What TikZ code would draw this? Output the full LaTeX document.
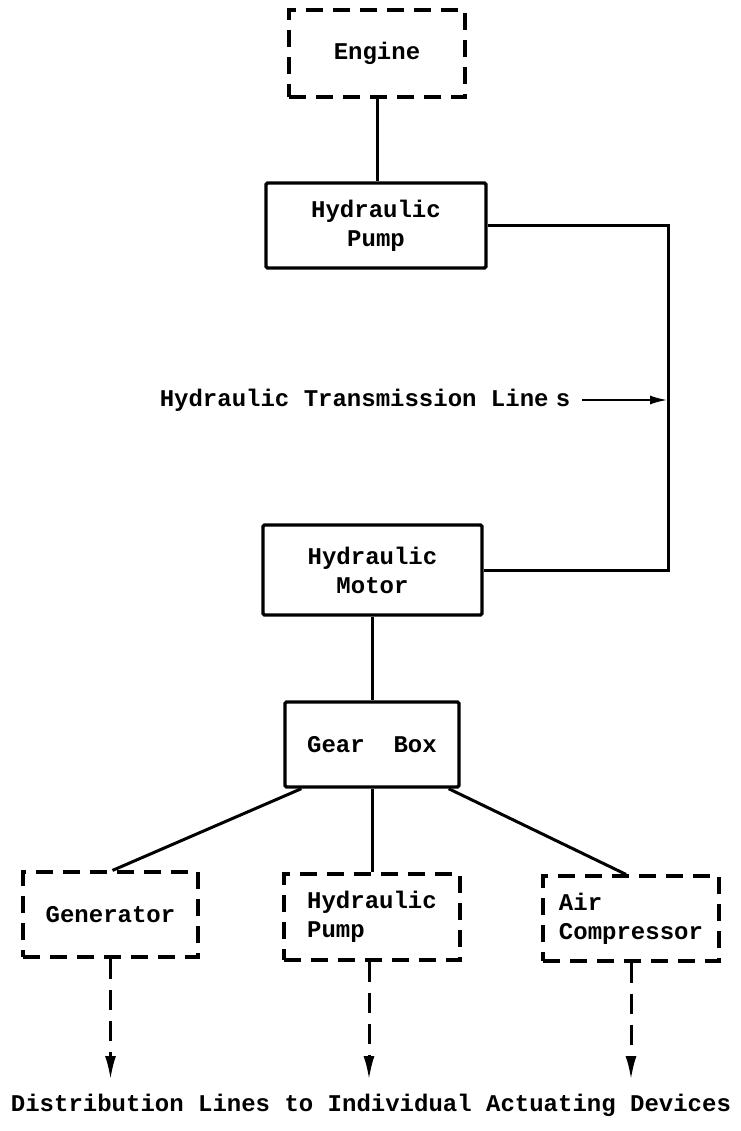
\documentclass[tikz,border=0pt]{standalone}
\usepackage{fontspec}
\setmonofont{Liberation Mono}
\usetikzlibrary{arrows.meta}
\begin{document}
\begin{tikzpicture}[x=1pt,y=-1pt,
  every node/.style={font=\ttfamily\bfseries\fontsize{24}{29}\selectfont, inner sep=0pt},
  solidbox/.style={draw, line width=3.4pt, rounded corners=1.5pt, minimum width=#1, minimum height=86pt},
  dashbox/.style={draw, line width=3.2pt, dash pattern=on 17pt off 10pt, minimum width=#1, minimum height=86pt},
  wire/.style={line width=3pt},
  dasharrow/.style={line width=3pt, dash pattern=on 20pt off 11pt, -{Latex[length=24pt,width=11pt]}},
  tarrow/.style={line width=2.6pt, -{Latex[length=18pt,width=9pt]}}
]
\useasboundingbox (0,0) rectangle (740,1131);

\node[dashbox=176pt, minimum height=87pt] (engine) at (377,53.5) {Engine};
\node[solidbox=220pt, minimum height=85pt, align=center] (pump) at (376,225.5) {Hydraulic\\Pump};
\node[solidbox=219pt, minimum height=90pt, align=center] (motor) at (372.5,570) {Hydraulic\\Motor};
\node[solidbox=174pt, minimum height=85pt] (gear) at (372,744.5) {Gear\ \ Box};

\node[dashbox=175pt, minimum height=85pt] (gen) at (110.5,914.5) {Generator};
\node[dashbox=176pt, minimum height=86pt, align=left] (pumpb) at (372,917) {Hydraulic\\Pump};
\node[dashbox=176pt, minimum height=85pt, align=left] (air) at (631,918.5) {Air\\Compressor};

\node (trans) at (365,400) {Hydraulic Transmission Line\hspace{0.3em}s};
\node (dist) at (371,1105) {Distribution Lines to Individual Actuating Devices};

\coordinate (bus) at (668,400);
\coordinate (ends) at (0,1080);

\draw[wire] (engine.south) -- (engine.south |- pump.north);
\draw[wire] (pump.east) -- (pump.east -| bus) -- (motor.east -| bus) -- (motor.east);
\draw[tarrow] ([xshift=12pt]trans.east) -- (bus);
\draw[wire] (motor.south) -- (motor.south |- gear.north);

\draw[wire] ([xshift=18pt]gear.south west) -- ([xshift=2pt]gen.north);
\draw[wire] (gear.south) -- (gear.south |- pumpb.north);
\draw[wire] ([xshift=-12pt]gear.south east) -- ([xshift=-5pt]air.north);

\draw[dasharrow] (gen.south) -- (gen.south |- ends);
\draw[dasharrow] ([xshift=-3pt]pumpb.south) -- ([xshift=-3pt]pumpb.south |- ends);
\draw[dasharrow] (air.south) -- (air.south |- ends);
\end{tikzpicture}
\end{document}
